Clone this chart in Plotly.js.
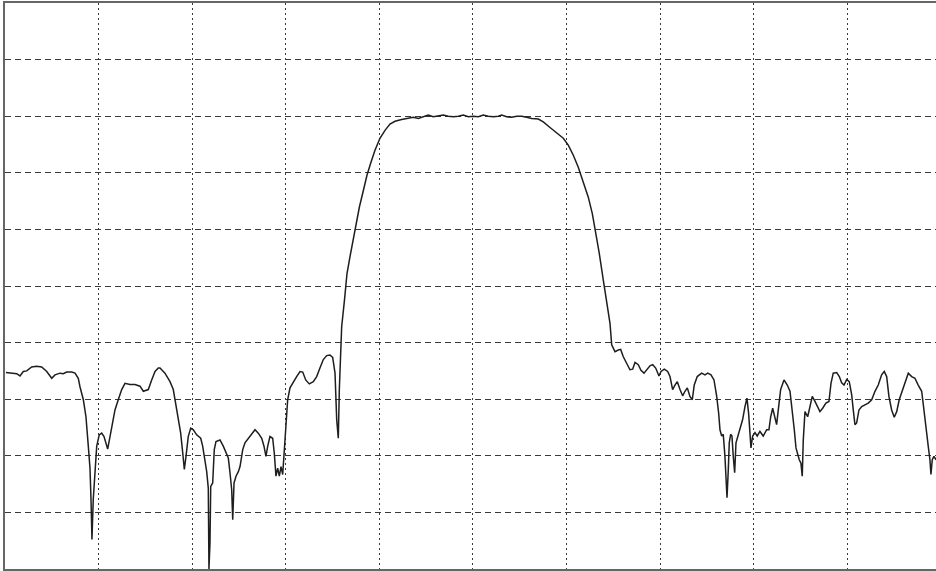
<!DOCTYPE html>
<html>
<head>
<meta charset="utf-8">
<script src="https://cdn.plot.ly/plotly-3.0.1.min.js"></script>
<style>html,body{margin:0;padding:0;background:#fff;overflow:hidden;}#chart{width:936px;height:571px;}</style>
</head>
<body>
<div id="chart"></div>
<script>
// Frequency offset (10 units per division) and level in dB (10 dB per division)
const freq = [
0.1,1.25,1.6,1.96,2.32,2.85,3.39,3.92,4.46,4.99,5.34,5.88,6.23,6.59,7.13,7.48,7.83,8.01,8.37,8.65,8.90,9.08,9.19,9.29,9.43,9.62,9.80,10.07,10.33,10.58,10.79,10.97,11.22,11.40,11.75,12.10,12.47,12.82,13.35,13.89,14.42,14.78,15.31,15.67,16.03,16.38,
16.56,17.09,17.63,17.98,18.16,18.52,18.77,18.99,19.16,19.34,19.58,19.84,20.12,20.48,20.91,21.12,21.29,21.55,21.72,21.79,21.90,21.98,22.19,22.36,22.54,22.97,23.32,23.61,23.86,24.04,24.22,24.33,24.47,24.68,24.93,25.11,25.40,25.64,25.99,26.36,26.71,27.06,27.43,27.67,27.88,28.07,28.31,28.60,28.77,28.95,29.13,29.31,29.49,29.67,29.84,30.02,30.20,30.45,30.80,31.16,31.52,31.81,32.13,32.51,32.94,33.30,33.65,34.01,34.37,34.72,35.01,35.26,35.44,35.61,35.72,35.86,
35.97,36.27,36.54,36.86,37.18,37.55,37.87,38.25,38.68,39.05,39.53,40.06,40.60,41.13,41.67,42.38,43.09,43.62,44.16,44.69,45.22,45.76,46.29,46.83,47.36,47.90,48.43,48.96,49.50,50.03,50.57,51.10,51.63,52.17,52.70,53.07,53.60,54.13,54.67,55.20,55.74,56.27,56.98,57.51,58.23,58.94,59.65,60.18,60.72,61.25,61.78,62.32,62.75,63.11,63.49,63.92,64.35,64.64,64.82,
64.99,65.17,65.53,65.78,66.06,66.42,66.77,67.06,67.31,67.66,67.95,68.27,68.62,68.91,69.20,69.52,69.87,70.09,70.44,70.80,71.05,71.33,71.58,71.83,72.12,72.40,72.65,72.90,73.18,73.43,73.64,73.96,74.43,74.79,75.08,75.43,75.75,76.04,76.25,76.39,76.57,76.74,76.92,77.03,77.14,77.28,77.38,77.53,77.67,77.81,77.96,78.10,78.31,78.53,78.81,79.06,79.27,79.45,79.59,79.70,79.88,80.13,80.37,80.66,81.01,81.38,
81.62,81.81,82.02,82.26,82.44,82.62,82.87,83.23,83.58,83.87,84.11,84.33,84.51,84.69,84.86,85.04,85.18,85.29,85.47,85.76,86.00,86.25,86.54,86.83,87.07,87.36,87.71,88.03,88.25,88.49,88.86,89.14,89.39,89.64,89.93,90.20,90.46,90.63,90.81,90.99,91.24,91.53,91.88,92.23,92.60,92.95,93.30,93.66,93.94,94.20,94.44,94.73,95.01,95.27,95.54,95.91,96.26,96.51,96.87,97.22,97.57,97.94,98.18,98.47,98.64,98.82,98.93,99.07,99.25,99.47
];
const level = [
-65.3,-65.5,-65.9,-65.1,-65.0,-64.3,-64.2,-64.3,-65.1,-66.3,-65.7,-65.4,-65.5,-65.2,-65.2,-65.4,-66.3,-67.8,-70.1,-73.1,-78.3,-82.2,-87.7,-94.8,-87.7,-82.2,-78.3,-76.3,-76.0,-76.6,-77.8,-78.8,-76.6,-74.8,-71.9,-70.1,-68.3,-67.2,-67.4,-67.4,-67.7,-68.6,-68.3,-66.6,-65.1,-64.5,
-64.5,-65.4,-66.9,-68.3,-70.1,-73.1,-76.0,-79.5,-82.4,-80.1,-76.6,-75.1,-75.4,-76.3,-76.9,-78.3,-80.1,-82.8,-85.7,-100.0,-95.4,-85.4,-84.8,-78.9,-77.5,-77.2,-78.3,-79.5,-80.4,-83.0,-86.0,-91.3,-84.8,-83.6,-82.8,-81.9,-78.9,-77.7,-76.9,-76.0,-75.4,-76.0,-76.9,-78.3,-80.1,-78.3,-76.6,-76.9,-79.5,-83.6,-82.2,-83.6,-81.9,-83.3,-78.9,-73.1,-70.1,-68.0,-66.9,-66.0,-65.1,-65.2,-66.6,-67.3,-66.9,-66.0,-64.5,-63.0,-62.3,-62.2,-62.6,-65.4,-73.6,-76.9,-68.3,-62.5,
-57.2,-52.5,-47.8,-44.8,-41.9,-38.9,-36.0,-33.4,-30.4,-28.4,-26.0,-23.9,-22.5,-21.4,-20.9,-20.6,-20.4,-20.2,-20.4,-20.1,-19.8,-20.1,-20.0,-19.8,-20.0,-20.1,-20.0,-19.8,-20.1,-20.0,-20.1,-19.8,-20.0,-20.1,-20.0,-19.8,-20.1,-20.2,-20.0,-20.0,-20.2,-20.4,-20.5,-21.0,-22.0,-23.0,-23.9,-25.1,-26.9,-29.0,-31.6,-34.3,-37.2,-40.4,-44.2,-48.9,-53.1,-56.6,-60.4,
-61.0,-61.6,-61.3,-61.2,-62.5,-63.6,-64.8,-64.7,-63.5,-63.9,-64.9,-65.4,-64.7,-64.1,-63.9,-64.5,-65.9,-65.1,-64.7,-65.1,-66.0,-68.3,-67.5,-66.9,-68.3,-69.4,-68.6,-68.0,-69.5,-70.1,-67.5,-66.0,-65.4,-65.7,-65.4,-65.7,-66.6,-69.5,-72.5,-75.4,-76.5,-76.2,-80.1,-84.8,-87.4,-82.4,-77.7,-76.2,-76.5,-80.1,-83.0,-77.7,-76.5,-75.4,-73.6,-71.3,-69.8,-72.5,-75.4,-78.6,-76.5,-75.9,-76.5,-75.7,-76.5,-75.4,
-75.4,-73.1,-71.6,-73.1,-74.5,-71.9,-68.3,-66.6,-67.5,-68.6,-71.9,-75.4,-78.6,-79.8,-80.7,-81.3,-83.6,-77.2,-72.2,-73.1,-71.3,-69.5,-70.4,-71.3,-72.2,-71.6,-70.7,-70.4,-67.2,-65.4,-65.3,-66.0,-67.1,-67.5,-66.5,-66.9,-69.2,-71.9,-74.5,-74.2,-71.9,-71.3,-71.0,-70.7,-70.1,-68.6,-67.5,-65.7,-65.1,-66.0,-69.5,-71.9,-73.2,-72.2,-70.1,-68.3,-66.3,-65.4,-66.0,-66.3,-67.5,-68.6,-71.9,-75.4,-78.3,-80.7,-83.3,-80.7,-80.1,-80.7
];

const trace = {
  x: freq, y: level, type: 'scatter', mode: 'lines',
  line: {color: '#1e1e1e', width: 1.5},
  hoverinfo: 'skip'
};

const layout = {
  width: 936, height: 571,
  margin: {l: 5, r: 0, t: 3, b: 2, pad: 0},
  paper_bgcolor: '#ffffff', plot_bgcolor: '#ffffff',
  showlegend: false,
  xaxis: {
    range: [0, 99.47], tick0: 0, dtick: 10,
    showgrid: true, gridcolor: '#3a3a3a', gridwidth: 1, griddash: '2px,3px',
    zeroline: false, showticklabels: false, ticks: '',
    showline: true, linecolor: '#666', linewidth: 2, mirror: true
  },
  yaxis: {
    range: [-100, 0], tick0: 0, dtick: 10,
    showgrid: true, gridcolor: '#3a3a3a', gridwidth: 1, griddash: '6px,4px',
    zeroline: false, showticklabels: false, ticks: '',
    showline: true, linecolor: '#666', linewidth: 2, mirror: false
  }
};

Plotly.newPlot('chart', [trace], layout, {staticPlot: true, displayModeBar: false});
</script>
</body>
</html>
